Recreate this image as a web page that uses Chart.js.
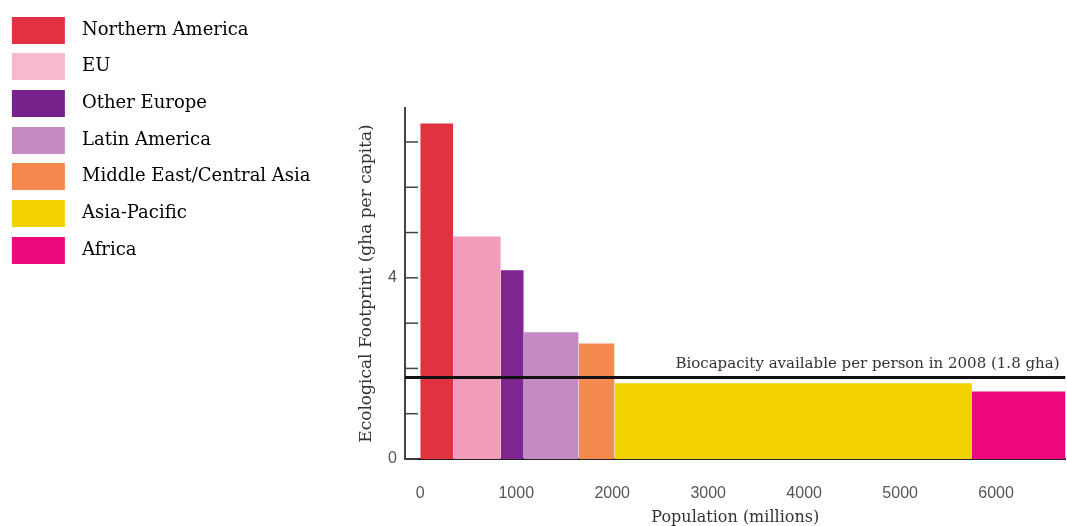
<!DOCTYPE html>
<html><head><meta charset="utf-8">
<script src="https://cdn.jsdelivr.net/npm/chart.js@4.4.1/dist/chart.umd.min.js"></script>
<style>
html,body{margin:0;padding:0;background:#fff;}
#wrap{position:relative;width:1067px;height:526px;}
</style></head><body>
<div id="wrap"><canvas id="c" width="1067" height="526"></canvas></div>
<script>
// ---- data ----
const regions = ['Northern America', 'EU', 'Other Europe', 'Latin America', 'Middle East/Central Asia', 'Asia-Pacific', 'Africa'];
const population = [343, 496, 239, 572, 374, 3724, 1002];      // millions (bar widths)
const footprint = [7.41, 4.91, 4.17, 2.80, 2.55, 1.67, 1.49];   // gha per capita (bar heights)
const barColors = ['#E0323F', '#F29CBB', '#7E2592', '#C48AC1', '#F58A4F', '#F2D100', '#EC077C'];
const legendColors = ['#E23141', '#F7B9CC', '#77228C', '#C68BC3', '#F5884F', '#F2D300', '#EC097D'];
const biocapacity = 1.8;
const biocapacityLabel = 'Biocapacity available per person in 2008 (1.8 gha)';
const xTickValues = [0, 1000, 2000, 3000, 4000, 5000, 6000];
const yTickValues = [0, 1, 2, 3, 4, 5, 6, 7];
const yLabelledTicks = [0, 4];
const xRange = [-159, 6723];
const yRange = [0, 7.75];

// ---- styles ----
const SERIF = '"DejaVu Serif", serif';
const SANS = '"Liberation Sans", Arial, sans-serif';
const legendFont = 18;
const legendPad = 36.7 - legendFont;
const legendW = 82 - legendFont / 2 - legendPad;
const legendBoxWidth = 330;
const yTitleSize = 17;

function swatch(color) {
  const c = document.createElement('canvas');
  c.width = 100; c.height = 27;
  const g = c.getContext('2d');
  g.fillStyle = color;
  const a = 50 - (legendPad + legendW / 2) + 12;
  g.fillRect(Math.round(a), 0, 53, 27);
  return c;
}
const swatches = legendColors.map(swatch);

let cum = 0;
const regionSets = regions.map((r, i) => {
  const start = cum; cum += population[i];
  return {
    type: 'line', label: r,
    data: [{x: start, y: footprint[i]}, {x: cum, y: footprint[i]}],
    backgroundColor: barColors[i], borderColor: 'rgba(0,0,0,0)', borderWidth: 0,
    fill: 'origin', pointRadius: 0, pointHoverRadius: 0, tension: 0, order: 1
  };
});
const bioSet = {
  type: 'line', label: biocapacityLabel,
  data: [{x: xRange[0], y: biocapacity}, {x: xRange[1], y: biocapacity}],
  borderColor: '#111', borderWidth: 3, pointRadius: 0, fill: false, order: -1
};

const innerTicks = {
  id: 'innerTicks',
  afterDraw(chart) {
    const y = chart.scales.y, ctx = chart.ctx, L = chart.chartArea.left;
    ctx.save(); ctx.strokeStyle = '#444'; ctx.lineWidth = 1.5;
    yTickValues.forEach(v => { const py = y.getPixelForValue(v); ctx.beginPath(); ctx.moveTo(L, py); ctx.lineTo(L + 13, py); ctx.stroke(); });
    ctx.restore();
  }
};
const bioLabel = {
  id: 'bioLabel',
  afterDatasetsDraw(chart) {
    const y = chart.scales.y, ctx = chart.ctx;
    ctx.save(); ctx.font = '15px ' + SERIF; ctx.fillStyle = '#333'; ctx.textAlign = 'right'; ctx.textBaseline = 'alphabetic';
    ctx.fillText(biocapacityLabel, chart.chartArea.right - 6, y.getPixelForValue(biocapacity) - 9);
    ctx.restore();
  }
};

const topPad = 30 - legendPad - legendFont / 2;
const chart = new Chart(document.getElementById('c'), {
  data: {datasets: [bioSet, ...regionSets]},
  plugins: [innerTicks, bioLabel],
  options: {
    responsive: false, animation: false, events: [],
    layout: {padding: {top: topPad, left: 0, right: 0, bottom: 0}},
    plugins: {
      tooltip: {enabled: false},
      title: {display: true, text: ' ', fullSize: false, font: {size: 10, lineHeight: 1}, padding: {top: 0, bottom: 108 - 10 - topPad}},
      legend: {
        position: 'left', align: 'start',
        labels: {
          usePointStyle: true, pointStyleWidth: legendW, padding: legendPad,
          color: '#333', font: {family: SERIF, size: legendFont},
          filter: item => item.datasetIndex > 0,
          generateLabels: ch => ch.data.datasets.map((d, i) => ({
            text: d.label, datasetIndex: i, pointStyle: i > 0 ? swatches[i - 1] : 'rect',
            fillStyle: i > 0 ? legendColors[i - 1] : '#000', strokeStyle: 'rgba(0,0,0,0)', lineWidth: 0, hidden: false
          }))
        }
      }
    },
    scales: {
      x: {
        type: 'linear', min: xRange[0], max: xRange[1], z: 1,
        afterBuildTicks: s => { s.ticks = xTickValues.map(v => ({value: v})); },
        afterFit: s => { s.height = 67; },
        grid: {display: true, drawOnChartArea: false, drawTicks: false},
        border: {display: true, color: '#222', width: 2},
        ticks: {padding: 25, color: '#555', autoSkip: false, maxRotation: 0, font: {family: SANS, size: 16}, callback: v => String(v)},
        title: {display: true, text: 'Population (millions)', color: '#333', font: {family: SERIF, size: 16, lineHeight: 1}, padding: {top: 0, bottom: 0}}
      },
      y: {
        type: 'linear', min: yRange[0], max: yRange[1],
        afterBuildTicks: s => { s.ticks = yTickValues.map(v => ({value: v})); },
        afterFit: s => { s.width = 405 - s.chart.legend.width; },
        grid: {display: true, drawOnChartArea: false, drawTicks: false},
        border: {display: true, color: '#444', width: 2},
        ticks: {padding: 8, color: '#555', font: {family: SANS, size: 16}, callback: v => yLabelledTicks.includes(v) ? String(v) : ''},
        title: {display: true, text: 'Ecological Footprint (gha per capita)', color: '#333', font: {family: SERIF, size: yTitleSize, lineHeight: 1}, padding: {top: 20, bottom: 0}}
      }
    }
  }
});
// let the legend column be as wide as its texts need
const legendFit = chart.legend.fit.bind(chart.legend);
chart.legend.fit = function () { legendFit(); this.width = legendBoxWidth; };
chart.update('none');
chart.options.scales.y.title.padding = {top: 367 - chart.legend.width - yTitleSize / 2, bottom: 0};
chart.update('none');
</script>
</body></html>
